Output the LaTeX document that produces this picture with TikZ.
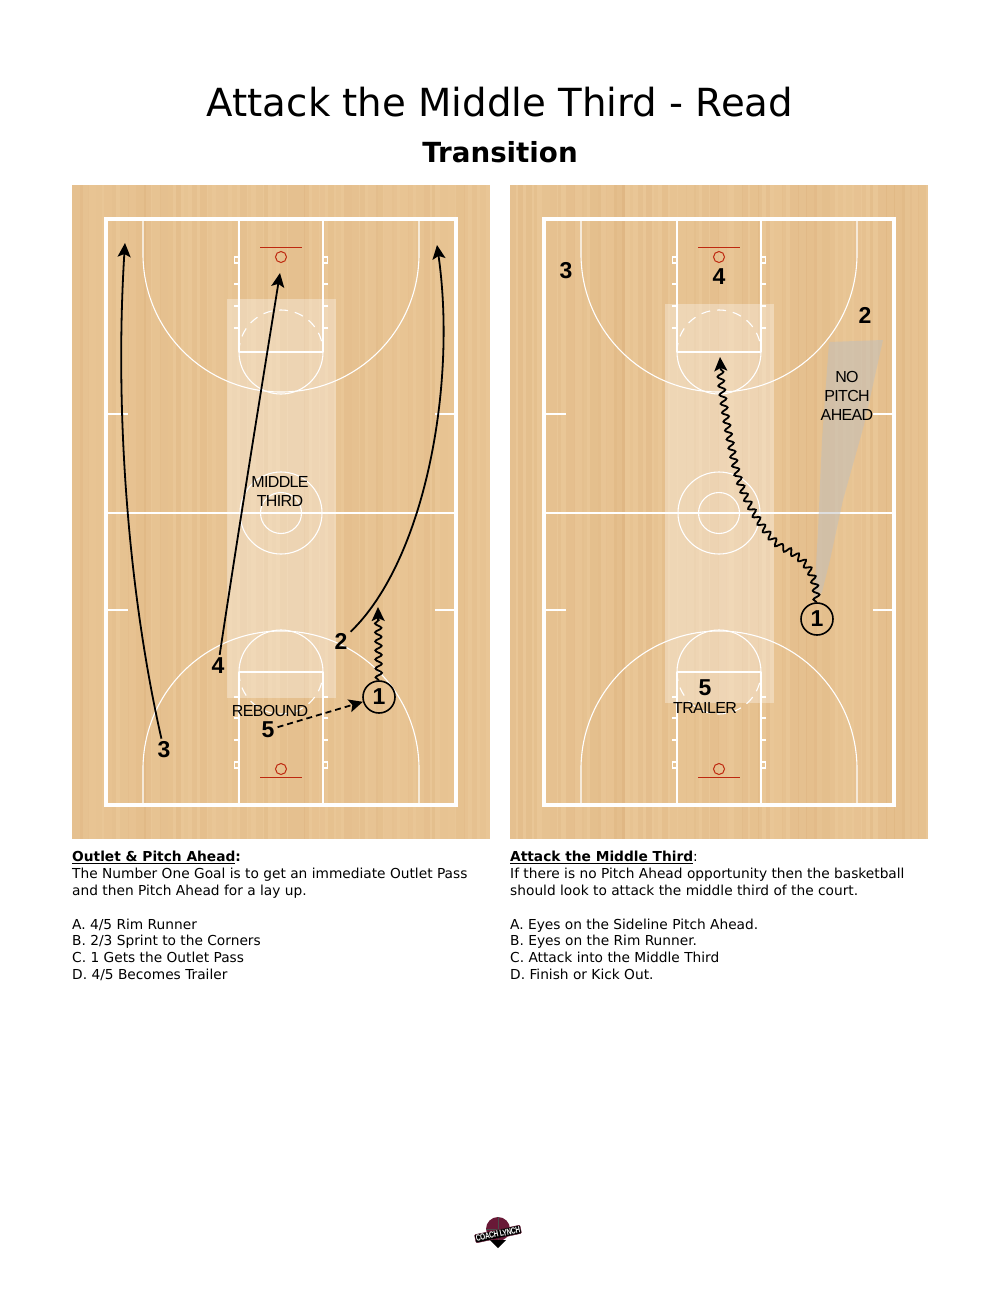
\documentclass[tikz,border=0pt]{standalone}
\usepackage{fontspec}
\usetikzlibrary{arrows.meta,decorations.pathmorphing}
\setmainfont{DejaVu Sans}
\newfontfamily\playerfont{Liberation Sans}
\newfontfamily\tagfont{Liberation Sans}[LetterSpace=-4]
\definecolor{woodbase}{RGB}{233,198,150}
\definecolor{rimred}{RGB}{190,40,15}
\definecolor{logored}{RGB}{105,25,55}
\tikzset{
  player/.style={font=\playerfont\bfseries\fontsize{23}{23}\selectfont,inner sep=3pt},
  ballcarrier/.style={player,circle,draw=black,line width=1.6pt,minimum size=32pt,inner sep=0pt},
  tagtext/.style={font=\tagfont\fontsize{16}{19}\selectfont,align=center,inner sep=0pt},
  notes/.style={anchor=north west,align=left,inner sep=0pt,font=\fontsize{13.75}{16.85}\selectfont},
  run/.style={black,line width=1.8pt,-{Stealth[length=14pt,width=13pt,inset=3pt]}},
  dribble/.style={run,decorate,decoration={snake,amplitude=3.2pt,segment length=9pt,post length=12pt}},
  courtline/.style={white,line width=1.1pt}
}
\begin{document}
\begin{tikzpicture}[x=1pt,y=-1pt]
        \useasboundingbox (0,0) rectangle (1000,1294);
        \fill [white] (0,0) rectangle (1000,1294);
        \node (title) at (500,102) {\fontsize{38.7}{40}\selectfont Attack the Middle Third - Read};
        \node (subtitle) at (500,152) {\fontsize{27.7}{28}\selectfont\bfseries Transition};
        \pgfmathsetseed{11}
        \foreach \cx/\rtop/\rbot in {0/299/698,438/304/703}{
        \begin{scope}[shift={(\cx,0)}]
        \fill [woodbase] (72,185) rectangle (490,839);
        \foreach \sx in {72,80,...,482}{
            \pgfmathsetmacro{\sop}{0.02+0.09*rnd}
            \pgfmathsetmacro{\sw}{8*rnd+3}
            \fill [brown,opacity=\sop] (\sx,185) rectangle ({min(\sx+\sw,490)},839);
        }
        \fill [white,opacity=0.32] (227,\rtop) rectangle (336,\rbot);
        \draw [white,line width=3.2pt] (106,219) rectangle (456,805);
        \draw [courtline] (106,513) -- (456,513);
        \draw [courtline] (281,513) circle (41pt);
        \draw [courtline] (281,513) circle (20.5pt);
        \draw [courtline] (239,219) -- (239,352) (323,219) -- (323,352) (239,352) -- (323,352);
        \draw [courtline] (239,805) -- (239,672) (323,805) -- (323,672) (239,672) -- (323,672);
        \draw [courtline] (143,219) -- (143,254) arc [start angle=180,end angle=360,radius=138pt] -- (419,219);
        \draw [courtline] (143,805) -- (143,769) arc [start angle=180,end angle=0,radius=138pt] -- (419,805);
        \draw [courtline] (239,352) arc [start angle=180,end angle=360,radius=42pt];
        \draw [courtline] (239,672) arc [start angle=180,end angle=0,radius=42pt];
        \draw [courtline,dash pattern=on 9pt off 7pt] (239,352) arc [start angle=180,end angle=0,radius=42pt];
        \draw [courtline,dash pattern=on 9pt off 7pt] (239,672) arc [start angle=180,end angle=360,radius=42pt];
        \draw [courtline] (106,414) -- (128,414) (435,414) -- (456,414);
        \draw [courtline] (106,610) -- (128,610) (435,610) -- (456,610);
        \foreach \ty in {284,306,328,697,718,740}{
            \draw [courtline] (234,\ty) -- (239,\ty) (323,\ty) -- (328,\ty);
        }
        \foreach \ty in {257,762}{
            \draw [courtline] (234.5,\ty) rectangle (239,\ty+6) (323,\ty) rectangle (327.5,\ty+6);
        }
        \draw [rimred,line width=1pt] (260,247) -- (302,247);
        \draw [rimred,line width=1pt] (281,257) circle (5.5pt);
        \draw [rimred,line width=1pt] (260,777) -- (302,777);
        \draw [rimred,line width=1pt] (281,769) circle (5.5pt);
        \end{scope}
        }
        \fill [gray!50,opacity=0.5] (829,342) -- (883,340) -- (864,425) -- (843,500) -- (830,560) -- (822,592) -- (814,600) -- (818,530) -- (822,440) -- cycle;
        \node (midtag) [tagtext] at (280,491) {MIDDLE\\THIRD};
        \node (rebtag) [tagtext] at (270,711) {REBOUND};
        \node (pthreea) [player] at (164,750) {3};
        \node (pfoura) [player] at (218,666) {4};
        \node (ptwoa) [player] at (341,641) {2};
        \node (pfivea) [player] at (268,730) {5};
        \node (ponea) [ballcarrier] at (379,697) {1};
        \coordinate (threeend) at (125,243);
        \coordinate (fourend) at (280,273);
        \coordinate (twoend) at (437,245);
        \coordinate (oneend) at (378,607);
        \draw [run] (pthreea) .. controls (130,600) and (114,420) .. (threeend);
        \draw [run] (pfoura) .. controls (240,520) and (262,385) .. (fourend);
        \draw [run] (ptwoa) .. controls (425,560) and (457,385) .. (twoend);
        \draw [dribble] (ponea) -- (oneend);
        \draw [run,dash pattern=on 6pt off 4pt] (pfivea) -- (ponea);
        \node (tagnopitch) [tagtext] at (847,396) {NO\\PITCH\\AHEAD};
        \node (tagtrailer) [tagtext] at (705,708) {TRAILER};
        \node (pthreeb) [player] at (566,271) {3};
        \node (pfourb) [player] at (719,277) {4};
        \node (ptwob) [player] at (865,315) {2};
        \node (pfiveb) [player] at (705,688) {5};
        \node (poneb) [ballcarrier] at (817,619) {1};
        \coordinate (onebend) at (720,357);
        \draw [dribble] (poneb) .. controls (816,575) and (805,560) .. (783,550) .. controls (768,540) and (745,505) .. (737,472) .. controls (730,440) and (722,400) .. (onebend);
        \node (notesa) [notes] at (72,851) {\textbf{\underline{Outlet \& Pitch Ahead}:}\\The Number One Goal is to get an immediate Outlet Pass\\and then Pitch Ahead for a lay up.\\[16.85pt]A. 4/5 Rim Runner\\B. 2/3 Sprint to the Corners\\C. 1 Gets the Outlet Pass\\D. 4/5 Becomes Trailer};
        \node (notesb) [notes] at (510,851) {\textbf{\underline{Attack the Middle Third}}:\\If there is no Pitch Ahead opportunity then the basketball\\should look to attack the middle third of the court.\\[16.85pt]A. Eyes on the Sideline Pitch Ahead.\\B. Eyes on the Rim Runner.\\C. Attack into the Middle Third\\D. Finish or Kick Out.};
        \fill [logored] (498,1229) circle (12pt);
        \draw [black!70,line width=0.6pt] (498,1217) -- (498,1241) (486,1229) -- (510,1229);
        \fill [black] (490,1240) -- (506,1240) -- (498,1248) -- cycle;
        \node (logo) [fill=black,draw=logored,rounded corners=1pt,rotate=12,xscale=0.72,inner sep=1pt,text=white,font=\tagfont\bfseries\fontsize{9}{9}\selectfont] at (498,1234) {COACH LYNCH};
\end{tikzpicture}
\end{document}
